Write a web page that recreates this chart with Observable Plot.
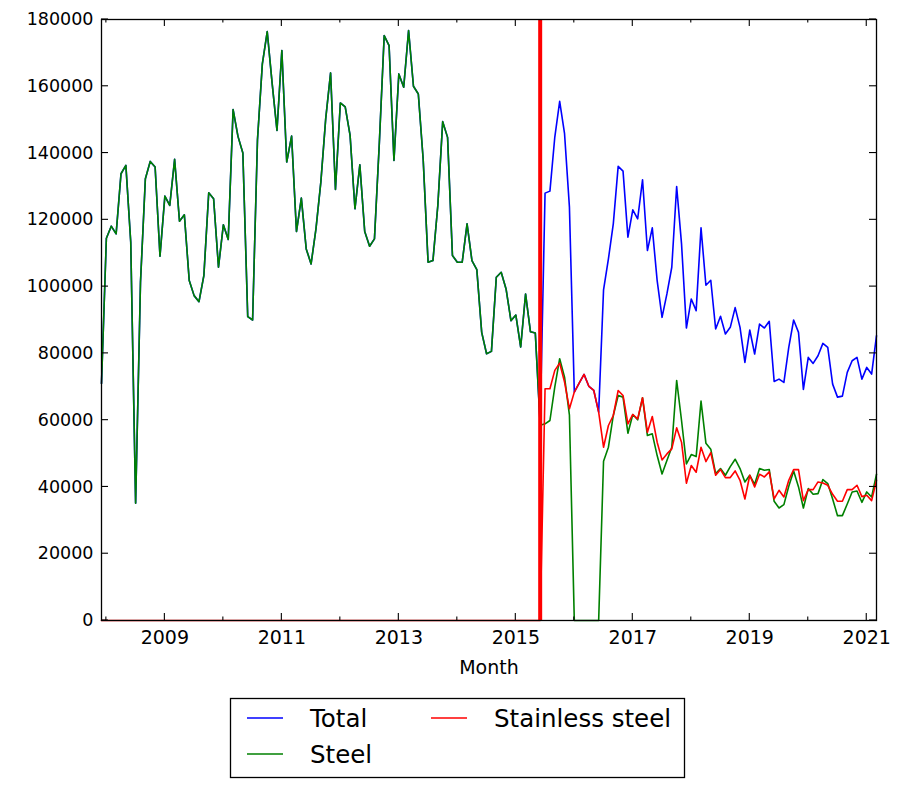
<!DOCTYPE html>
<html>
<head>
<meta charset="utf-8">
<script src="https://cdn.jsdelivr.net/npm/d3@7"></script>
<script src="https://cdn.jsdelivr.net/npm/@observablehq/plot@0.6"></script>
<style>
  html, body { margin: 0; padding: 0; background: #fff; }
  #wrap { position: relative; width: 918px; height: 787px; font-family: "DejaVu Sans", sans-serif; }
  #legend { position: absolute; left: 0; top: 0; }
</style>
</head>
<body>
<div id="wrap"></div>
<script>
// ---------- data (monthly, Dec 2007 .. Mar 2021) ----------
const firstMonth = "2007-12";
const breakMonth = "2015-06";
const seriesNames = ["Total", "Steel", "Stainless steel"];
const seriesColors = ["#0000ff", "#008000", "#ff0000"];

const steel = [
  71000, 114500, 118100, 115800, 133800, 136300, 113300, 35100, 101300, 132300, 137500, 135800,
  109100, 127100, 124300, 138100, 119600, 121500, 101800, 97300, 95500, 103300, 128100, 126300,
  105800, 118500, 114100, 153000, 145000, 140000, 91000, 90000, 144000, 166700, 176400, 161000,
  146800, 170700, 137300, 145100, 116500, 126500, 111300, 106800, 117300, 131300, 150300, 164000,
  129100, 155000, 153800, 145300, 123300, 136500, 116500, 112100, 114300, 143000, 175200, 172200,
  137800, 163700, 159700, 176700, 160000, 157700, 138000, 107300, 107800, 124300, 149400, 144700,
  109300, 107300, 107300, 118800, 107800, 105100, 86300, 79900, 80600, 102800, 104300, 99300,
  89800, 91500, 81900, 97800, 86500, 86100, 58500, 58900, 59900, 70000, 78400, 72900,
  61500, 0, 0, 0, 0, 0, 0, 47700, 51900, 61400, 67400, 66900,
  56100, 61700, 60100, 66700, 55400, 55900, 49400, 43900, 47900, 51900, 71900, 59900,
  46900, 49700, 49100, 65700, 53100, 51300, 44000, 45500, 43500, 46100, 48300, 45500,
  41500, 43500, 40800, 45500, 45000, 45200, 35700, 33700, 34700, 40200, 44800, 40000,
  33700, 39500, 37800, 38000, 42200, 41000, 36400, 31400, 31400, 34900, 38500, 38800,
  35400, 38500, 37000, 43800
];

const stainless = [
  0, 0, 0, 0, 0, 0, 0, 0, 0, 0, 0, 0,
  0, 0, 0, 0, 0, 0, 0, 0, 0, 0, 0, 0,
  0, 0, 0, 0, 0, 0, 0, 0, 0, 0, 0, 0,
  0, 0, 0, 0, 0, 0, 0, 0, 0, 0, 0, 0,
  0, 0, 0, 0, 0, 0, 0, 0, 0, 0, 0, 0,
  0, 0, 0, 0, 0, 0, 0, 0, 0, 0, 0, 0,
  0, 0, 0, 0, 0, 0, 0, 0, 0, 0, 0, 0,
  0, 0, 0, 0, 0, 0, 0, 69400, 69400, 74900, 77100, 71400,
  63400, 68400, 71100, 73700, 70100, 68900, 62400, 51900, 58400, 61400, 68900, 67400,
  58900, 61700, 60400, 66700, 56400, 61100, 53400, 48100, 49900, 51400, 57700, 53400,
  41100, 46400, 44400, 51900, 47600, 50300, 43500, 45200, 42800, 42800, 44800, 42000,
  36400, 43500, 40000, 43800, 43000, 44500, 36400, 39000, 37000, 42000, 45200, 45200,
  35900, 39200, 39200, 41500, 41200, 40500, 37800, 35700, 35700, 39200, 39200, 40500,
  37100, 37500, 35900, 42000
];

const total = [
  71000, 114500, 118100, 115800, 133800, 136300, 113300, 35100, 101300, 132300, 137500, 135800,
  109100, 127100, 124300, 138100, 119600, 121500, 101800, 97300, 95500, 103300, 128100, 126300,
  105800, 118500, 114100, 153000, 145000, 140000, 91000, 90000, 144000, 166700, 176400, 161000,
  146800, 170700, 137300, 145100, 116500, 126500, 111300, 106800, 117300, 131300, 150300, 164000,
  129100, 155000, 153800, 145300, 123300, 136500, 116500, 112100, 114300, 143000, 175200, 172200,
  137800, 163700, 159700, 176700, 160000, 157700, 138000, 107300, 107800, 124300, 149400, 144700,
  109300, 107300, 107300, 118800, 107800, 105100, 86300, 79900, 80600, 102800, 104300, 99300,
  89800, 91500, 81900, 97800, 86500, 86100, 58500, 128000, 128600, 144800, 155500, 145800,
  123800, 68400, 71100, 73700, 70100, 68900, 62400, 99000, 108300, 118800, 136000, 134600,
  114800, 123000, 120300, 132000, 110800, 117600, 101800, 90800, 97800, 105800, 130000, 112800,
  87600, 96300, 92800, 117600, 100400, 101900, 87300, 91100, 85800, 87800, 93700, 87800,
  77300, 87000, 79800, 88800, 87600, 89600, 71600, 72300, 71300, 81800, 90000, 86300,
  69200, 78800, 77000, 79300, 83000, 81800, 70800, 66900, 67200, 74300, 77800, 78800,
  72300, 75800, 73800, 85300
];

const xMajorYears = [2009, 2011, 2013, 2015, 2017, 2019, 2021];
const xMinorYears = [2008, 2010, 2012, 2014, 2016, 2018, 2020];
const yTicks = [0, 20000, 40000, 60000, 80000, 100000, 120000, 140000, 160000, 180000];

// ---------- build table ----------
function monthToYear(s) { const [y, m] = s.split("-").map(Number); return y + (m - 1) / 12; }
const t0 = monthToYear(firstMonth);
const rows = total.map((v, i) => ({
  t: t0 + i / 12,
  total: v,
  steel: steel[i],
  stainless: stainless[i]
}));
const breakT = monthToYear(breakMonth);

const W = 918, H = 690;
const mTop = 19, mBottom = 70, mLeft = 101, mRight = 42;
const chart = Plot.plot({
  width: W, height: H,
  marginTop: mTop, marginLeft: mLeft, marginRight: mRight, marginBottom: mBottom,
  style: { fontFamily: "DejaVu Sans", fontSize: "19px", color: "#000", background: "transparent", overflow: "visible" },
  x: { type: "linear", domain: [rows[0].t, rows[rows.length - 1].t] },
  y: { domain: [0, 180000] },
  marks: [
    Plot.axisX({ ticks: xMajorYears, tickSize: 0, tickPadding: 10, tickFormat: d => String(d), label: null, fontSize: 19 }),
    Plot.axisY({ ticks: yTicks, tickSize: 0, tickPadding: 8, tickFormat: d => String(d), label: null, fontSize: 17.5 }),
    Plot.lineY(rows, { x: "t", y: "total", stroke: seriesColors[0], strokeWidth: 1.6 }),
    Plot.lineY(rows, { x: "t", y: "steel", stroke: seriesColors[1], strokeWidth: 1.6 }),
    Plot.lineY(rows, { x: "t", y: "stainless", stroke: seriesColors[2], strokeWidth: 1.6 }),
    Plot.ruleX([breakT], { stroke: "#ff0000", strokeWidth: 4 }),
    Plot.frame({ stroke: "#000", strokeWidth: 1.3 }),
    Plot.text(["Month"], { frameAnchor: "bottom", dy: 53, fontSize: 19, fill: "#000" })
  ]
});

// inward tick marks on all four sides (matplotlib classic style)
const xScale = chart.scale("x"), yScale = chart.scale("y");
const svgSel = d3.select(chart);
const pTop = mTop, pBottom = H - mBottom, pLeft = mLeft, pRight = W - mRight;
const tg = svgSel.append("g").attr("stroke", "#000").attr("stroke-width", 1.1);
xMajorYears.forEach(yr => {
  const x = xScale.apply(yr);
  tg.append("line").attr("x1", x).attr("x2", x).attr("y1", pBottom).attr("y2", pBottom - 7);
  tg.append("line").attr("x1", x).attr("x2", x).attr("y1", pTop).attr("y2", pTop + 7);
});
xMinorYears.forEach(yr => {
  const x = xScale.apply(yr);
  tg.append("line").attr("x1", x).attr("x2", x).attr("y1", pBottom).attr("y2", pBottom - 3.5);
  tg.append("line").attr("x1", x).attr("x2", x).attr("y1", pTop).attr("y2", pTop + 3.5);
});
yTicks.forEach(v => {
  const y = yScale.apply(v);
  tg.append("line").attr("x1", pLeft).attr("x2", pLeft + 7).attr("y1", y).attr("y2", y);
  tg.append("line").attr("x1", pRight).attr("x2", pRight - 7).attr("y1", y).attr("y2", y);
});

const wrap = document.getElementById("wrap");
wrap.appendChild(chart);

// ---------- legend below the chart ----------
const lg = d3.select(wrap).append("svg")
  .attr("id", "legend")
  .attr("width", W).attr("height", 787)
  .style("pointer-events", "none");
lg.append("rect").attr("x", 230.5).attr("y", 698.5).attr("width", 454).attr("height", 79)
  .attr("fill", "#fff").attr("stroke", "#000").attr("stroke-width", 1.3);
const legendPos = [
  { lx: 247, tx: 310, y: 718 },
  { lx: 247, tx: 310, y: 754 },
  { lx: 431, tx: 494, y: 718 }
];
seriesNames.forEach((name, i) => {
  const p = legendPos[i];
  lg.append("line").attr("x1", p.lx).attr("x2", p.lx + 36).attr("y1", p.y).attr("y2", p.y)
    .attr("stroke", seriesColors[i]).attr("stroke-width", 1.3);
  lg.append("text").attr("x", p.tx).attr("y", p.y + 9)
    .attr("font-family", "DejaVu Sans").attr("font-size", 24.5).attr("fill", "#000")
    .text(name);
});
</script>
</body>
</html>
